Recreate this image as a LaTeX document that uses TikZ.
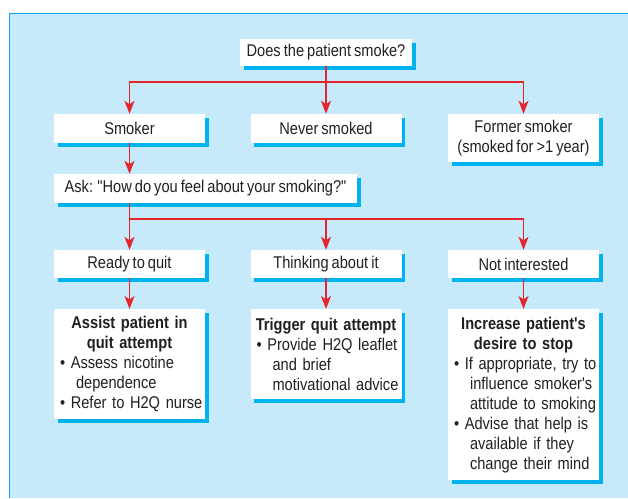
\documentclass[tikz,border=0pt]{standalone}
\usepackage{fontspec}
\setmainfont[FakeStretch=0.86,WordSpace=0.75,Ligatures=TeXOff]{Liberation Sans}
\usetikzlibrary{arrows.meta,shadows}
\definecolor{panelc}{HTML}{C7EAFA}
\definecolor{bordc}{HTML}{00AEEF}
\definecolor{shadc}{HTML}{00B2EE}
\definecolor{redc}{HTML}{E5252C}
\definecolor{textc}{HTML}{231F20}
\newcommand\ttl[1]{\makebox[\linewidth]{\bfseries #1}}
\newcommand\bul[1]{\mbox{\textbullet\ #1}}
\newcommand\cnt[1]{\mbox{\hspace*{16pt}#1}}
\begin{document}
\begin{tikzpicture}[x=1pt,y=-1pt,
  box/.style={fill=white, draw=none, inner sep=0pt, text=textc, align=center,
    font=\fontsize{17}{20}\selectfont,
    drop shadow={shadow xshift=3.5pt, shadow yshift=-3.5pt, fill=shadc, opacity=1}},
  colbox/.style={box, minimum width=151pt},
  listbox/.style={box, anchor=north, text width=139pt, inner xsep=6pt, align=left},
  conn/.style={draw=redc, line width=1.5pt},
  arr/.style={conn, -{Stealth[length=13pt, width=10pt, inset=3.5pt]}}]
\useasboundingbox (0,0) rectangle (628,498);
\fill[panelc] (9.5,13.5) rectangle (628,498);
\draw[bordc, line width=1.3pt] (9.5,498) -- (9.5,13.5) -- (628,13.5);

\node[box, minimum width=172pt, minimum height=27pt] (top) at (326,52.5) {Does the patient smoke?};

\node[colbox, minimum height=29pt] (smoker) at (129.5,128.5) {Smoker};
\node[colbox, minimum height=29pt] (never) at (326,128.5) {Never smoked};
\node[colbox, minimum height=48pt] (former) at (523.5,138) {Former smoker\\(smoked for >1 year)};

\node[box, minimum width=303pt, minimum height=29pt] (ask) at (205.5,188.5) {Ask: "How do you feel about your smoking?"};

\node[colbox, minimum height=28pt] (ready) at (129.5,264) {Ready to quit};
\node[colbox, minimum height=28pt] (think) at (326,264) {Thinking about it};
\node[colbox, minimum height=28pt] (notint) at (523.5,264) {Not interested};

\node[listbox, minimum height=110pt] (assist) at (129.5,309) {%
\ttl{Assist patient in}\\
\ttl{quit attempt}\\
\bul{Assess nicotine}\\
\cnt{dependence}\\
\bul{Refer to H2Q nurse}};

\node[listbox, minimum height=90pt] (trigger) at (326,309) {%
\ttl{Trigger quit attempt}\\
\bul{Provide H2Q leaflet}\\
\cnt{and brief}\\
\cnt{motivational advice}};

\node[listbox, minimum height=171pt] (increase) at (523.5,309) {%
\ttl{Increase patient's}\\
\ttl{desire to stop}\\
\bul{If appropriate, try to}\\
\cnt{influence smoker's}\\
\cnt{attitude to smoking}\\
\bul{Advise that help is}\\
\cnt{available if they}\\
\cnt{change their mind}};

\coordinate (j1) at (326,82);
\coordinate (j2) at (129.5,219);

\draw[conn] (top.south) -- (j1);
\draw[arr] (j1) -| (smoker.north);
\draw[arr] (j1) -- (never.north);
\draw[arr] (j1) -| (former.north);

\draw[arr] (smoker.south) -- (smoker.south |- ask.north);
\draw[conn] (smoker.south |- ask.south) -- (j2);
\draw[arr] (j2) -- (ready.north);
\draw[arr] (j2) -| (think.north);
\draw[arr] (j2) -| (notint.north);

\draw[arr] (ready.south) -- (assist.north);
\draw[arr] (think.south) -- (trigger.north);
\draw[arr] (notint.south) -- (increase.north);
\end{tikzpicture}
\end{document}
